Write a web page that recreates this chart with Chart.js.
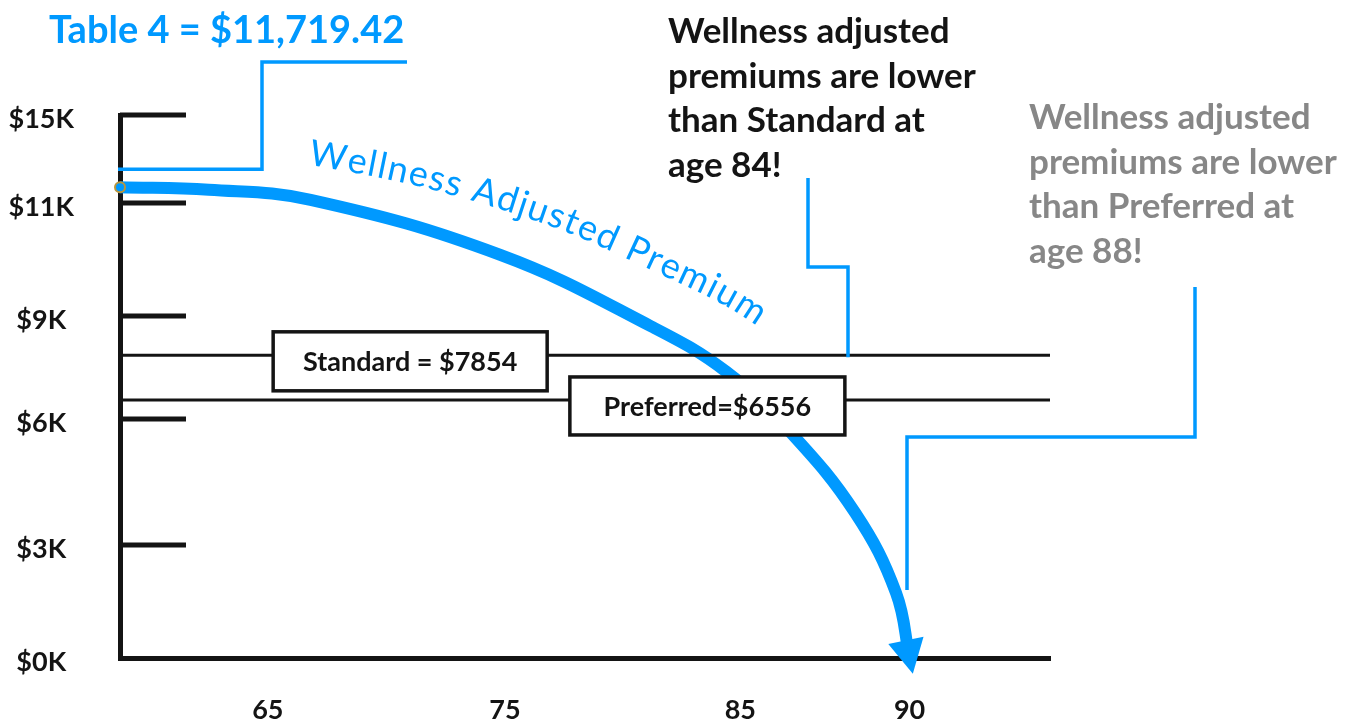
<!DOCTYPE html>
<html>
<head>
<meta charset="utf-8">
<title>Wellness Adjusted Premium</title>
<script src="https://cdn.jsdelivr.net/npm/chart.js"></script>
<style>
  html, body { margin: 0; padding: 0; background: #fff; }
  canvas { display: block; }
</style>
</head>
<body>
<canvas id="myChart" width="1354" height="725"></canvas>
<script>
// Wellness adjusted premium
const ages = [60, 63, 66.8, 74.8, 81.2, 84.4, 86.5, 88.4, 89.6, 90];
const wellnessPremium = [11719.42, 11600, 11140, 10080, 8700, 7380, 5670, 3760, 1730, 0];

// Flat premiums
const standardPremium = 7854;
const preferredPremium = 6556;
const ageRange = [60, 94];

// Axis ticks
const xTicks = [65, 75, 85, 90];
const yTicks = [0, 3000, 6000, 9000, 11000, 15000];
const yTickLabels = ['$0K', '$3K', '$6K', '$9K', '$11K', '$15K'];

// Callout texts
const titleText = 'Table 4 = $11,719.42';
const standardNote = ['Wellness adjusted', 'premiums are lower', 'than Standard at', 'age 84!'];
const preferredNote = ['Wellness adjusted', 'premiums are lower', 'than Preferred at', 'age 88!'];

const BLUE = '#0099ff';
const INK = '#141414';
const GREY = '#878787';

Chart.defaults.font.family = 'Lato';

// the hand drawn axes are not evenly spaced: piecewise linear scale
class StepScale extends Chart.LinearScale {
    static id = 'step';
    buildTicks() {
        return this.options.tickValues.map(v => ({ value: v }));
    }
    getPixelForValue(value) {
        const s = this.options.stops;
        let i = 1;
        while (i < s.length - 1 && value > s[i][0]) i++;
        const f = s[i - 1][1] + (value - s[i - 1][0]) / (s[i][0] - s[i - 1][0]) * (s[i][1] - s[i - 1][1]);
        return this.getPixelForDecimal(f);
    }
    getValueForPixel(pixel) {
        const d = this.getDecimalForPixel(pixel);
        const s = this.options.stops;
        let i = 1;
        while (i < s.length - 1 && d > s[i][1]) i++;
        return s[i - 1][0] + (d - s[i - 1][1]) / (s[i][1] - s[i - 1][1]) * (s[i][0] - s[i - 1][0]);
    }
}
Chart.register(StepScale);

function sampleCurve(points) {
    const out = [];
    for (let i = 0; i < points.length - 1; i++) {
        const a = points[i], b = points[i + 1];
        for (let k = 0; k < 24; k++) {
            const t = k / 24, u = 1 - t;
            out.push({
                x: u * u * u * a.x + 3 * u * u * t * a.cp2x + 3 * u * t * t * b.cp1x + t * t * t * b.x,
                y: u * u * u * a.y + 3 * u * u * t * a.cp2y + 3 * u * t * t * b.cp1y + t * t * t * b.y
            });
        }
    }
    const last = points[points.length - 1];
    out.push({ x: last.x, y: last.y });
    return out;
}

function drawCurvedText(ctx, pts, startX, text, o) {
    const base = pts.slice(pts.findIndex(p => p.x >= startX));
    const sb = [0];
    for (let k = 1; k < base.length; k++) {
        sb.push(sb[k - 1] + Math.hypot(base[k].x - base[k - 1].x, base[k].y - base[k - 1].y));
    }
    const off = base.map((p, k) => {
        const a = base[Math.max(0, k - 1)], b = base[Math.min(base.length - 1, k + 1)];
        const len = Math.hypot(b.x - a.x, b.y - a.y) || 1;
        const tx = (b.x - a.x) / len, ty = (b.y - a.y) / len;
        const d = o.from + (o.to - o.from) * Math.min(1, sb[k] / o.span);
        return { x: p.x + ty * d, y: p.y - tx * d };
    });
    const so = [0];
    for (let k = 1; k < off.length; k++) {
        so.push(so[k - 1] + Math.hypot(off[k].x - off[k - 1].x, off[k].y - off[k - 1].y));
    }
    ctx.save();
    ctx.font = o.font;
    ctx.fillStyle = o.color;
    ctx.textAlign = 'center';
    ctx.textBaseline = 'alphabetic';
    let pos = 0;
    for (const ch of text) {
        const w = ctx.measureText(ch).width;
        const mid = pos + w / 2;
        let k = 1;
        while (k < so.length - 1 && so[k] < mid) k++;
        const a = off[Math.max(0, k - 3)], b = off[Math.min(off.length - 1, k + 2)];
        const p0 = off[k - 1], p1 = off[k];
        const t = (mid - so[k - 1]) / ((so[k] - so[k - 1]) || 1);
        ctx.save();
        ctx.translate(p0.x + (p1.x - p0.x) * t, p0.y + (p1.y - p0.y) * t);
        ctx.rotate(Math.atan2(b.y - a.y, b.x - a.x));
        ctx.fillText(ch, 0, 0);
        ctx.restore();
        pos += w + o.spacing;
    }
    ctx.restore();
}

function polyline(ctx, pts, color, width) {
    ctx.save();
    ctx.strokeStyle = color;
    ctx.lineWidth = width;
    ctx.lineJoin = 'miter';
    ctx.beginPath();
    pts.forEach((p, i) => i ? ctx.lineTo(p[0], p[1]) : ctx.moveTo(p[0], p[1]));
    ctx.stroke();
    ctx.restore();
}

function labelBox(ctx, cx, cy, w, h, text) {
    ctx.save();
    ctx.fillStyle = '#fff';
    ctx.strokeStyle = INK;
    ctx.lineWidth = 3.5;
    ctx.fillRect(cx - w / 2, cy - h / 2, w, h);
    ctx.strokeRect(cx - w / 2, cy - h / 2, w, h);
    ctx.fillStyle = INK;
    ctx.font = 'bold 27px Lato';
    ctx.textAlign = 'center';
    ctx.textBaseline = 'middle';
    ctx.fillText(text, cx, cy + 1);
    ctx.restore();
}

function textLines(ctx, lines, x, y, step, color) {
    ctx.save();
    ctx.fillStyle = color;
    ctx.font = 'bold 35px Lato';
    ctx.textAlign = 'left';
    ctx.textBaseline = 'alphabetic';
    lines.forEach((l, i) => ctx.fillText(l, x, y + i * step));
    ctx.restore();
}

const decorations = {
    id: 'decorations',
    beforeDatasetsDraw(chart) {
        const { ctx, chartArea, scales: { y } } = chart;
        ctx.save();
        ctx.strokeStyle = INK;
        ctx.lineWidth = 5;
        y.ticks.forEach(t => {
            if (t.value === 0) return;
            const py = y.getPixelForValue(t.value);
            ctx.beginPath();
            ctx.moveTo(chartArea.left, py);
            ctx.lineTo(chartArea.left + 66, py);
            ctx.stroke();
        });
        ctx.restore();
    },
    afterDatasetsDraw(chart) {
        const { ctx, chartArea, scales: { x, y } } = chart;
        const pts = chart.getDatasetMeta(0).data;
        const curve = sampleCurve(pts);

        // arrow head at the end of the curve
        const last = pts[pts.length - 1];
        let dx = last.x - last.cp1x, dy = last.y - last.cp1y;
        const dl = Math.hypot(dx, dy) || 1;
        dx /= dl; dy /= dl;
        ctx.save();
        ctx.fillStyle = BLUE;
        ctx.beginPath();
        ctx.moveTo(last.x + dx * 16, last.y + dy * 16);
        ctx.lineTo(last.x - dx * 18 - dy * 18, last.y - dy * 18 + dx * 18);
        ctx.lineTo(last.x - dx * 18 + dy * 18, last.y - dy * 18 - dx * 18);
        ctx.closePath();
        ctx.fill();
        ctx.restore();

        drawCurvedText(ctx, curve, x.getPixelForValue(66.3), 'Wellness Adjusted Premium', {
            font: '36px Lato', color: BLUE, spacing: 1.5, from: 34, to: 56, span: 480
        });

        labelBox(ctx, x.getPixelForValue(71), y.getPixelForValue(standardPremium) + 6, 274, 59, 'Standard = $' + standardPremium);
        labelBox(ctx, x.getPixelForValue(83.6), y.getPixelForValue(preferredPremium) + 6, 275, 58, 'Preferred=$' + preferredPremium);

        // callouts
        const startY = y.getPixelForValue(wellnessPremium[0]) - 18;
        polyline(ctx, [[407, 62], [262, 62], [262, startY], [chartArea.left - 2, startY]], BLUE, 3.5);
        polyline(ctx, [[808, 178], [808, 267], [848, 267], [848, y.getPixelForValue(standardPremium) + 2]], BLUE, 3.5);
        polyline(ctx, [[1195, 287], [1195, 437], [907, 437], [907, 590]], BLUE, 3.5);

        ctx.save();
        ctx.fillStyle = BLUE;
        ctx.font = 'bold 38px Lato';
        ctx.textBaseline = 'alphabetic';
        ctx.fillText(titleText, 49, 43);
        ctx.restore();

        textLines(ctx, standardNote, 668, 43, 44.7, INK);
        textLines(ctx, preferredNote, 1029, 129, 44.7, GREY);
    }
};

const ctx = document.getElementById('myChart');

new Chart(ctx, {
    type: 'line',
    data: {
        datasets: [{
            label: 'Wellness Adjusted Premium',
            data: ages.map((a, i) => ({ x: a, y: wellnessPremium[i] })),
            borderColor: BLUE,
            borderWidth: 12,
            tension: 0.4,
            pointRadius: c => c.dataIndex === 0 ? 5 : 0,
            pointBackgroundColor: BLUE,
            pointBorderColor: '#b8963e',
            pointBorderWidth: 2,
            clip: false,
            order: 2
        }, {
            label: 'Standard',
            data: ageRange.map(a => ({ x: a, y: standardPremium })),
            borderColor: INK,
            borderWidth: 3,
            pointRadius: 0,
            clip: false,
            order: 1
        }, {
            label: 'Preferred',
            data: ageRange.map(a => ({ x: a, y: preferredPremium })),
            borderColor: INK,
            borderWidth: 3,
            pointRadius: 0,
            clip: false,
            order: 1
        }]
    },
    options: {
        responsive: false,
        animation: false,
        events: [],
        layout: { padding: { top: 115, right: 304, bottom: 0, left: 0 } },
        plugins: { legend: { display: false }, tooltip: { enabled: false } },
        scales: {
            x: {
                type: 'step',
                position: 'bottom',
                min: ageRange[0],
                max: ageRange[1],
                tickValues: xTicks,
                stops: [[60, 0], [65, 0.159], [75, 0.414], [85, 0.667], [90, 0.849], [94, 1]],
                grid: { display: false, drawTicks: false },
                border: { color: INK, width: 5 },
                ticks: {
                    color: INK,
                    font: { size: 27, weight: 'bold' },
                    padding: 36,
                    maxRotation: 0,
                    autoSkip: false,
                    callback: v => String(v)
                },
                afterFit: s => { s.height = 67; }
            },
            y: {
                type: 'step',
                min: yTicks[0],
                max: yTicks[yTicks.length - 1],
                tickValues: yTicks,
                stops: yTicks.map((v, i) => [v, [0, 0.208, 0.440, 0.630, 0.838, 1][i]]),
                grid: { display: false, drawTicks: false },
                border: { color: INK, width: 5 },
                ticks: {
                    color: INK,
                    font: { size: 27, weight: 'bold' },
                    crossAlign: 'center',
                    padding: 46,
                    labelOffset: 4,
                    autoSkip: false,
                    callback: (v, i) => yTickLabels[i]
                },
                afterFit: s => { s.width = 120; }
            }
        }
    },
    plugins: [decorations]
});
</script>
</body>
</html>
